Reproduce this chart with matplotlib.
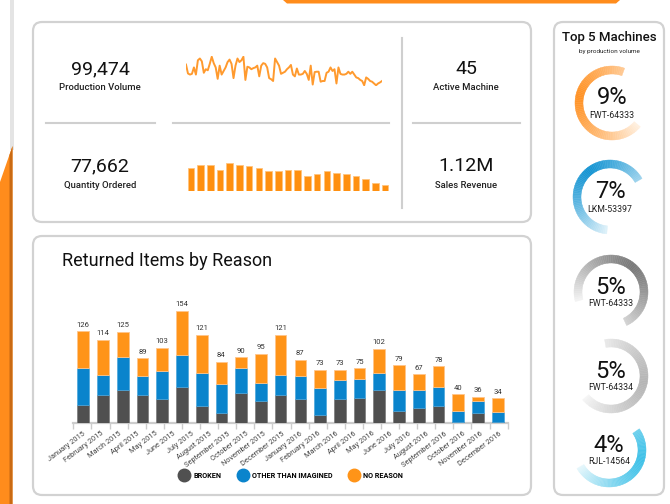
import matplotlib.pyplot as plt
from matplotlib.patches import FancyBboxPatch, Polygon, Wedge, Rectangle
from matplotlib.lines import Line2D
import matplotlib.colors as mcolors
import numpy as np

plt.rcParams['font.family'] = ['Roboto', 'DejaVu Sans']

W, H = 670, 504

# KPI tiles
kpi_values = ['99,474', '77,662', '45', '1.12M']
kpi_labels = ['Production Volume', 'Quantity Ordered', 'Active Machine', 'Sales Revenue']

# sparkline + mini bars in the KPI card (relative units)
production_trend = [78, 53, 50, 52, 70, 50, 90, 95, 87, 55, 65, 62, 80, 100, 82, 70, 38, 75,
                    50, 60, 70, 85, 92, 80, 40, 75, 95, 85, 90, 100, 35, 72, 70, 65, 68, 70,
                    75, 45, 75, 82, 80, 70, 40, 37, 32, 95, 85, 75, 52, 55, 58, 65, 70, 77,
                    50, 45, 67, 50, 50, 52, 60, 52, 35, 75, 22, 57, 58, 58, 30, 32, 32, 55,
                    58, 70, 60, 65, 25, 70, 52, 50, 50, 52, 58, 52, 58, 50, 42, 40, 35, 32,
                    20, 42, 38, 32, 30, 25, 20, 25, 28, 32]
ordered_trend = [68, 77, 76, 62, 82, 76, 72, 67, 57, 57, 62, 62, 44, 49, 58, 53, 50, 45, 36, 23, 17]

# Returned items
months = ['January 2015', 'February 2015', 'March 2015', 'April 2015', 'May 2015', 'June 2015',
          'July 2015', 'August 2015', 'September 2015', 'October 2015', 'November 2015',
          'December 2015', 'January 2016', 'February 2016', 'March 2016', 'April 2016',
          'May 2016', 'June 2016', 'July 2016', 'August 2016', 'September 2016',
          'October 2016', 'November 2016', 'December 2016']
broken = [25, 39, 46, 39, 33, 50, 24, 14, 41, 30, 38, 33, 11, 33, 35, 45, 17, 21, 24, 2, 14, 2]
other_than_imagined = [51, 27, 44, 25, 38, 43, 44, 39, 35, 25, 28, 31, 37, 26, 26, 23, 29, 24, 26, 15, 16, 13]
no_reason = [50, 48, 35, 25, 32, 61, 53, 31, 14, 40, 55, 23, 25, 14, 14, 34, 33, 22, 28, 23, 6, 19]
returned_total = [126, 114, 125, 89, 103, 154, 121, 84, 90, 95, 121, 87, 73, 73, 75, 102, 79, 67, 78, 40, 36, 34]
reasons = ['BROKEN', 'OTHER THAN IMAGINED', 'NO REASON']
reason_colors = ['#505050', '#0A84CC', '#FF9418']

# Top machines
machine_share = ['9%', '7%', '5%', '5%', '4%']
machine_ids = ['FWT-64333', 'LKM-53397', 'FWT-64333', 'FWT-64334', 'RJL-14564']

ORANGE = '#FF8C1C'


def frac(x0, y0, x1, y1):
    return [x0 / W, 1 - y1 / H, (x1 - x0) / W, (y1 - y0) / H]


fig = plt.figure(figsize=(W / 100, H / 100), dpi=100)
bg = fig.add_axes([0, 0, 1, 1])
bg.set_xlim(0, W)
bg.set_ylim(H, 0)
bg.axis('off')


def card(x0, y0, x1, y1):
    bg.add_patch(FancyBboxPatch((x0, y0), x1 - x0, y1 - y0,
                                boxstyle='round,pad=0,rounding_size=9',
                                fc='white', ec='#D2D2D2', lw=1.6))


# page decoration
bg.add_patch(Rectangle((10, 0), 4, 150, fc='#E4E4E4', ec='none'))
bg.add_patch(Polygon([(0, 182), (12.5, 146), (12.5, H), (0, H)], fc=ORANGE, ec='none'))
bg.add_patch(Polygon([(9.5, 155), (12.5, 146), (12.5, H), (9.5, H)], fc='#C96A14', ec='none'))
bg.add_patch(Polygon([(283, 0), (620, 0), (616, 3.5), (287, 3.5)], fc=ORANGE, ec='none'))

card(33, 22, 531, 222)
card(33, 236, 531, 495)
card(554, 22, 664, 495)

# KPI card
for (x, y), v, lab in zip([(100, 69), (100, 166), (466, 69), (466, 166)], kpi_values, kpi_labels):
    bg.text(x, y, v, fontsize=14, ha='center', va='center', color='#111111')
    bg.text(x, y + 19, lab, fontsize=6.8, ha='center', va='center', color='#222222', weight='medium')

for x0, x1 in [(46, 155), (173, 389), (413, 520)]:
    bg.plot([x0, x1], [123, 123], color='#CFCFCF', lw=1.5)
bg.plot([402, 402], [38, 208], color='#CFCFCF', lw=1.5)

spark = fig.add_axes(frac(186, 56, 382, 86))
spark.plot(range(len(production_trend)), production_trend, color='#FF9A2E', lw=1.4)
spark.set_xlim(0, len(production_trend) - 1)
spark.set_ylim(18, 102)
spark.axis('off')

mini = fig.add_axes(frac(186, 158, 390, 191))
mini.bar(range(len(ordered_trend)), ordered_trend, width=0.68, color='#FF9010', ec='#FFC47E', lw=0.6)
mini.set_xlim(-0.5, len(ordered_trend) - 0.5)
mini.set_ylim(0, 96)
mini.axis('off')

# Returned items card
bg.text(62, 261, 'Returned Items by Reason', fontsize=13, ha='left', va='center', color='#111111')

lab_ax = fig.add_axes(frac(73.4, 290, 507.6, 423.3))
lab_ax.patch.set_visible(False)
lab_ax.set_xlim(-0.5, len(months) - 0.5)
lab_ax.set_yticks([])
for s in ['top', 'left', 'right']:
    lab_ax.spines[s].set_visible(False)
lab_ax.spines['bottom'].set_color('#CCCCCC')
lab_ax.spines['bottom'].set_linewidth(1.6)
lab_ax.set_xticks(range(len(months)))
lab_ax.set_xticklabels(months, rotation=37, ha='right', rotation_mode='anchor',
                       fontsize=5.3, color='#444444')
lab_ax.tick_params(axis='x', which='major', length=0, pad=5)
lab_ax.set_xticks(np.arange(-0.5, len(months)), minor=True)
lab_ax.tick_params(axis='x', which='minor', length=4, width=1, color='#CCCCCC')

ax = fig.add_axes(frac(73.4, 290, 507.6, 423.3))
ax.patch.set_visible(False)
x = np.arange(len(returned_total))
b1 = np.array(broken)
b2 = b1 + np.array(other_than_imagined)
ax.bar(x, broken, width=0.59, color=reason_colors[0], ec='#7A7A7A', lw=0.5)
ax.bar(x, other_than_imagined, bottom=b1, width=0.59, color=reason_colors[1], ec='#4AA6DC', lw=0.5)
ax.bar(x, no_reason, bottom=b2, width=0.59, color=reason_colors[2], ec='#FFC58A', lw=0.6)
for xi, t in zip(x, returned_total):
    ax.annotate(str(t), (xi, t), xytext=(0, 2.5), textcoords='offset points',
                ha='center', va='bottom', fontsize=5.5, color='#333333')
ax.set_xlim(-0.5, len(returned_total) - 0.5)
ax.set_ylim(0, 182)
ax.axis('off')

handles = [Line2D([], [], marker='o', ls='', ms=9, mfc=c, mec=c) for c in reason_colors]
fig.legend(handles, reasons, loc='center left', bbox_to_anchor=(177 / W, 1 - 476 / H),
           ncol=3, frameon=False, prop=dict(size=5.2, weight='bold'),
           handletextpad=0.7, columnspacing=2.3, handlelength=1.2, borderaxespad=0)

# Top 5 machines card
bg.text(609, 37, 'Top 5 Machines', fontsize=9.5, ha='center', va='center', color='#111111', weight='medium')
bg.text(609, 51, 'by production volume', fontsize=4.6, ha='center', va='center', color='#222222')


def mix(c1, c2, t):
    return tuple(np.array(mcolors.to_rgb(c1)) * (1 - t) + np.array(mcolors.to_rgb(c2)) * t)


def ring(cx, cy, start, end, peak, dark, light, r=37, w=8, n=80):
    angs = np.linspace(start, end, n + 1)
    span = max(peak - start, end - peak)
    for a0, a1 in zip(angs[:-1], angs[1:]):
        t = min(abs((a0 + a1) / 2 - peak) / span, 1) ** 1.3
        col = mix(dark, light, t)
        bg.add_patch(Wedge((cx, cy), r, -a1, -a0, width=w, fc=col, ec=col, lw=0.3))


ring_style = [
    (612, 103, 70, 320, 170, '#FF9326', '#FFF1E2'),
    (610, 197, 30, 265, 130, '#1695D3', '#E0F2FA'),
    (611, 292, -65, 195, 50, '#7A7A7A', '#F4F4F4'),
    (611, 376, -140, 100, -10, '#B5B5B5', '#F6F6F6'),
    (609, 450, -150, 35, -15, '#3EC1E8', '#E8F8FC'),
]
for (cx, cy, s, e, p, d, l), pct, mid in zip(ring_style, machine_share, machine_ids):
    ring(cx, cy, s, e, p, d, l)
    bg.text(cx, cy - 5, pct, fontsize=17, ha='center', va='center', color='#111111')
    bg.text(cx, cy + 12, mid, fontsize=6.3, ha='center', va='center', color='#222222')

fig.savefig('out.png', dpi=100)
